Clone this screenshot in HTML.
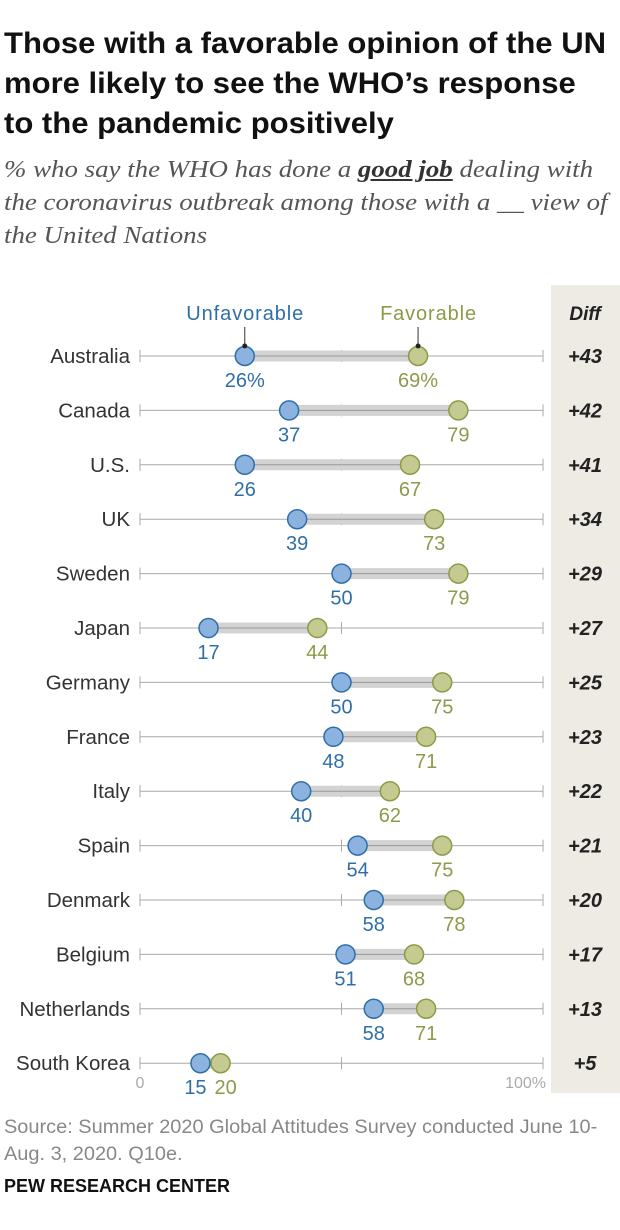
<!DOCTYPE html>
<html><head><meta charset="utf-8"><style>
body{margin:0;width:620px;height:1230px;background:#fff;position:relative;overflow:hidden;font-family:"Liberation Sans",sans-serif}
#title{position:absolute;left:4px;top:24px;width:700px;font-size:30px;font-weight:bold;line-height:40px;color:#111;transform:scaleX(1.035);transform-origin:0 0;white-space:nowrap}
#sub{position:absolute;left:4px;top:154px;width:700px;font-family:"Liberation Serif",serif;font-style:italic;font-size:24px;line-height:33px;color:#555;white-space:nowrap;transform:scaleX(1.12);transform-origin:0 0}
#sub b{text-decoration:underline;color:#333}
#src{position:absolute;left:4px;top:1114px;font-size:19px;line-height:27px;color:#888;white-space:nowrap;transform:scaleX(1.05);transform-origin:0 0}
#pew{position:absolute;left:4px;top:1176px;font-size:18px;font-weight:bold;color:#111;white-space:nowrap}
</style></head><body>
<div id="title">Those with a favorable opinion of the UN<br>more likely to see the WHO’s response<br>to the pandemic positively</div>
<div id="sub">% who say the WHO has done a <b>good job</b> dealing with<br>the coronavirus outbreak among those with a __ view of<br>the United Nations</div>
<svg id="chart" width="620" height="1230" style="position:absolute;left:0;top:0"></svg>
<div id="src">Source: Summer 2020 Global Attitudes Survey conducted June 10-<br>Aug. 3, 2020. Q10e.</div>
<div id="pew">PEW RESEARCH CENTER</div>
<script>
const countries=["Australia","Canada","U.S.","UK","Sweden","Japan","Germany","France","Italy","Spain","Denmark","Belgium","Netherlands","South Korea"];
const unfav=[26,37,26,39,50,17,50,48,40,54,58,51,58,15];
const fav=[69,79,67,73,79,44,75,71,62,75,78,68,71,20];
const diffs=["+43","+42","+41","+34","+29","+27","+25","+23","+22","+21","+20","+17","+13","+5"];
const NS="http://www.w3.org/2000/svg";
const svg=document.getElementById('chart');
function x(v){return 140+v*4.03;}
function y(i){return 356+i*54.4;}
function mk(t,a,p){const e=document.createElementNS(NS,t);for(const k in a)e.setAttribute(k,a[k]);(p||svg).appendChild(e);return e;}
const bg=mk('rect',{x:551,y:285,width:69,height:808,fill:'#eeebe4'});


function txt(s,a,name){const t=mk('text',a);t.textContent=s;return t;}
txt('Diff',{x:585,y:320,'text-anchor':'middle','font-size':19,'font-weight':'bold','font-style':'italic',fill:'#222'},'diff-header');
txt('Unfavorable',{x:x(26),y:320,'text-anchor':'middle','font-size':20,fill:'#2f6fa8',textLength:117},'legend-unfavorable');
txt('Favorable',{x:x(69)+10,y:320,'text-anchor':'middle','font-size':20,fill:'#8d9a4a',textLength:96},'legend-favorable');
mk('line',{x1:x(26),y1:327,x2:x(26),y2:346,stroke:'#333','stroke-width':1});
mk('line',{x1:x(69),y1:327,x2:x(69),y2:346,stroke:'#333','stroke-width':1});
countries.forEach((c,i)=>{
 const yy=y(i);
 const ax=mk('line',{x1:x(0),y1:yy,x2:x(100),y2:yy,stroke:'#aaa','stroke-width':1});
 
 [0,50,100].forEach(v=>mk('line',{x1:x(v),y1:yy-6,x2:x(v),y2:yy+6,stroke:'#aaa','stroke-width':1}));
 const bar=mk('line',{x1:x(unfav[i]),y1:yy,x2:x(fav[i]),y2:yy,stroke:'#d3d3d3','stroke-width':11});
 
 mk('line',{x1:x(unfav[i]),y1:yy,x2:x(fav[i]),y2:yy,stroke:'#999','stroke-width':1});
 txt(c,{x:130,y:yy+7,'text-anchor':'end','font-size':20.5,fill:'#333'},'country-label');
 const cu=mk('circle',{cx:x(unfav[i]),cy:yy,r:9.5,fill:'#8cb3e0',stroke:'#2f6fa8','stroke-width':1.5});
 
 const cf=mk('circle',{cx:x(fav[i]),cy:yy,r:9.5,fill:'#c4ca90',stroke:'#8d9a4a','stroke-width':1.5});
 
 const suf=i===0?'%':'';
 txt(unfav[i]+suf,{x:x(unfav[i])+(i===13?-5:0),y:yy+31,'text-anchor':'middle','font-size':20,fill:'#2f6fa8'},'value-unfavorable');
 txt(fav[i]+suf,{x:x(fav[i])+(i===13?5:0),y:yy+31,'text-anchor':'middle','font-size':20,fill:'#8d9a4a'},'value-favorable');
 txt(diffs[i],{x:585,y:yy+7,'text-anchor':'middle','font-size':20,'font-weight':'bold','font-style':'italic',fill:'#222'},'diff-value');
});
mk('circle',{cx:x(26),cy:346,r:2.5,fill:'#222'});
mk('circle',{cx:x(69),cy:346,r:2.5,fill:'#222'});
txt('0',{x:x(0),y:y(13)+25,'text-anchor':'middle','font-size':16,fill:'#aaa'},'x-tick-0');
txt('100%',{x:x(100)+3,y:y(13)+25,'text-anchor':'end','font-size':16,fill:'#aaa'},'x-tick-100');
</script>
</body></html>
